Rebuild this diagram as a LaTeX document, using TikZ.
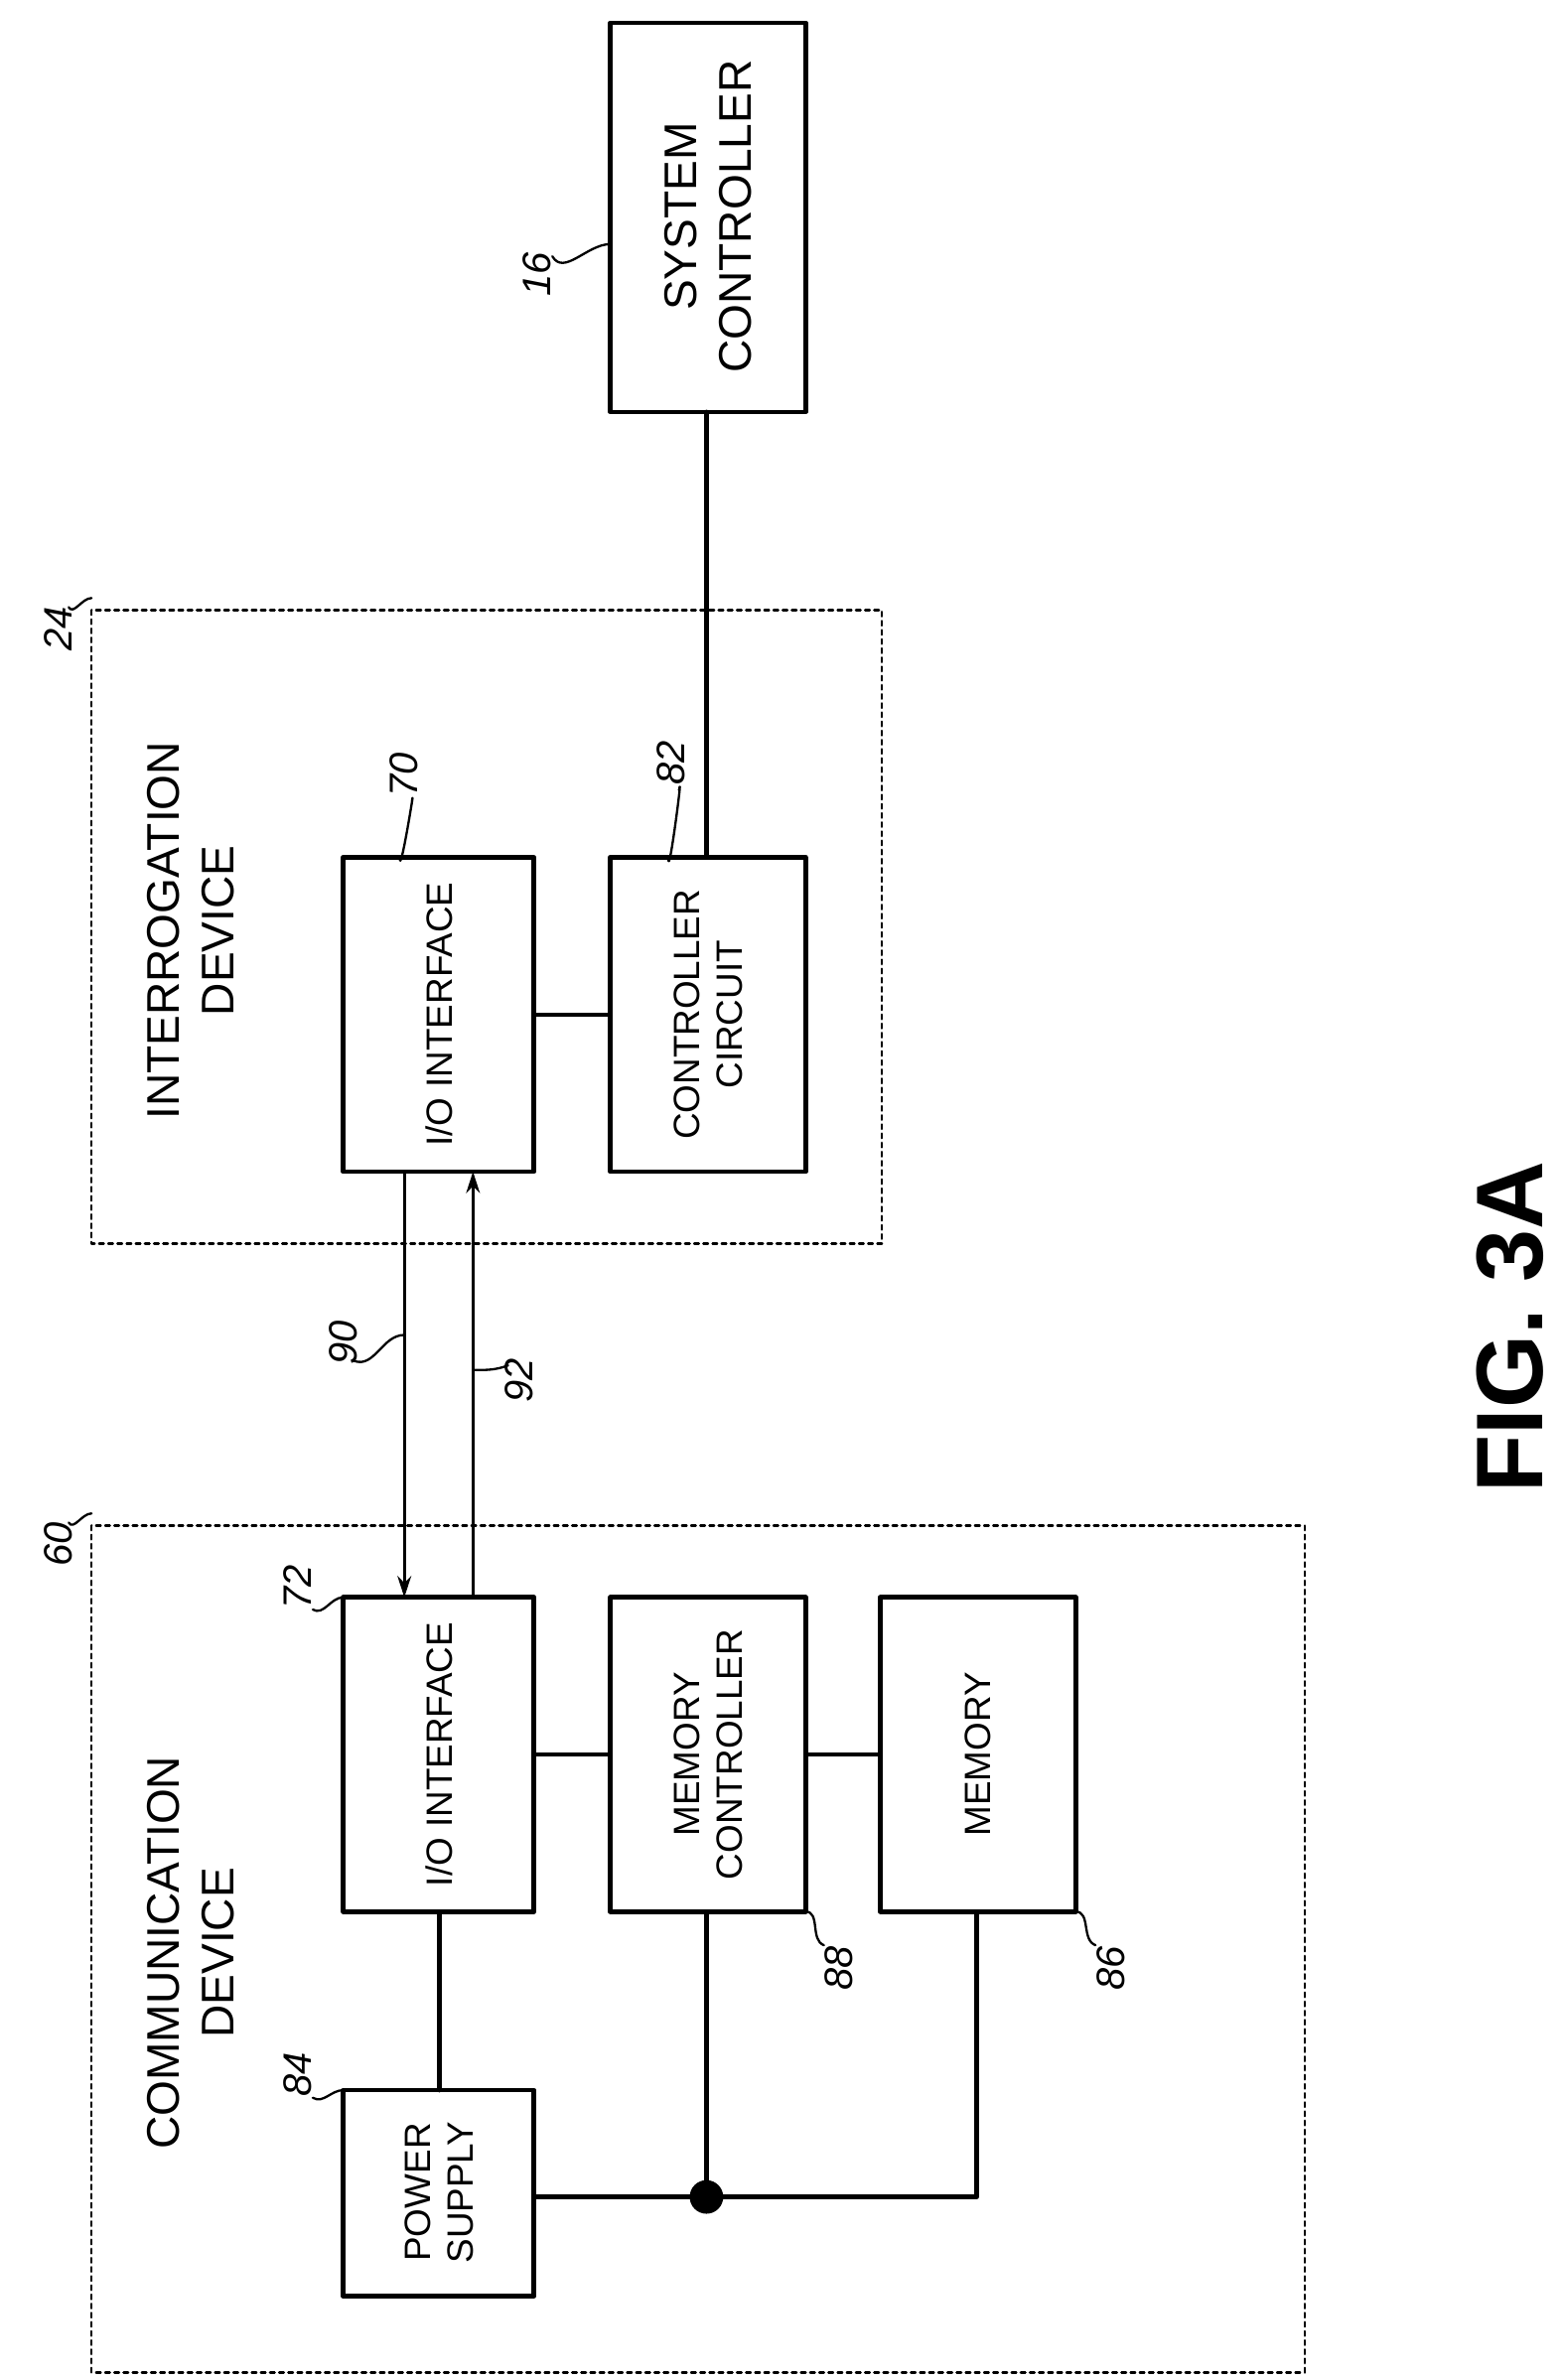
\documentclass[tikz,border=0pt]{standalone}
\usepackage{fontspec}
\setmainfont{Liberation Sans}
\usetikzlibrary{arrows.meta}
\tikzset{
  blk/.style={draw,line width=3pt,minimum width=#1},
  lbl/.style={rotate=90,align=center,font=\fontsize{24}{28}\selectfont},
  ref/.style={rotate=90,font=\fontsize{26}{28}\selectfont\itshape},
  grp/.style={draw,dashed,line width=1.6pt},
  wire/.style={line width=3pt},
}
\begin{document}
\begin{tikzpicture}[line cap=round,line join=round,x=1pt,y=-1pt,>={Stealth[length=14pt,width=9pt]}]
\useasboundingbox (0,0) rectangle (1024,1560);
% groups
\draw[grp] (60,400) rectangle (578,815);
\draw[grp] (60,1000) rectangle (855,1555);
\node[lbl,font=\fontsize{30}{36}\selectfont] (intdev) at (125,610) {INTERROGATION\\DEVICE};
\node[lbl,font=\fontsize{30}{36}\selectfont] (comdev) at (125,1280) {COMMUNICATION\\DEVICE};
% blocks
\draw[blk] (400,15) rectangle (528,270);
\node[lbl,font=\fontsize{30}{36}\selectfont] (sysctl) at (464,142) {SYSTEM\\CONTROLLER};
\draw[blk] (225,562) rectangle (350,768);
\node[lbl] (ioa) at (288,665) {I/O INTERFACE};
\draw[blk] (400,562) rectangle (528,768);
\node[lbl] (ctlc) at (464,665) {CONTROLLER\\CIRCUIT};
\draw[blk] (225,1047) rectangle (350,1253);
\node[lbl] (iob) at (288,1150) {I/O INTERFACE};
\draw[blk] (400,1047) rectangle (528,1253);
\node[lbl] (memctl) at (464,1150) {MEMORY\\CONTROLLER};
\draw[blk] (577,1047) rectangle (705,1253);
\node[lbl] (mem) at (641,1150) {MEMORY};
\draw[blk] (225,1370) rectangle (350,1505);
\node[lbl] (pwr) at (288,1437) {POWER\\SUPPLY};
% coordinates
\coordinate (sysB) at (463,270);
\coordinate (ctlT) at (463,562);
\coordinate (ioaR) at (350,665);
\coordinate (ctlL) at (400,665);
\coordinate (iobR) at (350,1150);
\coordinate (mcL) at (400,1150);
\coordinate (mcR) at (528,1150);
\coordinate (memL) at (577,1150);
\coordinate (iobB) at (288,1253);
\coordinate (pwrT) at (288,1370);
\coordinate (pwrR) at (350,1440);
\coordinate (dot) at (463,1440);
\coordinate (mcB) at (463,1253);
\coordinate (memB) at (640,1253);
\coordinate (a90s) at (265,768);
\coordinate (a90e) at (265,1047);
\coordinate (a92s) at (310,1047);
\coordinate (a92e) at (310,768);
% wires
\draw[wire] (sysB) -- (ctlT);
\draw[wire] (ioaR) -- (ctlL);
\draw[wire] (iobR) -- (mcL);
\draw[wire] (mcR) -- (memL);
\draw[wire] (iobB) -- (pwrT);
\draw[wire] (pwrR) -- (memB |- pwrR) -- (memB);
\draw[wire] (mcB) -- (dot);
\fill (dot) circle (11);
\draw[line width=2pt,->] (a90s) -- (a90e);
\draw[line width=2pt,->] (a92s) -- (a92e);
% reference numerals
\node[ref] (r16) at (352,180) {16};
\draw[line width=1.5pt] (362,168) to[out=-60,in=180] (400,160);
\node[ref] (r24) at (38,412) {24};
\draw[line width=1.5pt] (45,398) to[out=-60,in=180] (60,392);
\node[ref] (r70) at (265,508) {70};
\draw[line width=1.5pt] (270,525) to[out=80,in=-90] (262,562);
\node[ref] (r82) at (440,500) {82};
\draw[line width=1.5pt] (445,518) to[out=80,in=-90] (438,562);
\node[ref] (r90) at (225,880) {90};
\draw[line width=1.5pt] (232,892) to[out=-20,in=180] (265,875);
\node[ref] (r92) at (340,905) {92};
\draw[line width=1.5pt] (333,895) to[out=200,in=0] (310,898);
\node[ref] (r60) at (38,1012) {60};
\draw[line width=1.5pt] (45,998) to[out=-60,in=180] (60,992);
\node[ref] (r72) at (195,1040) {72};
\draw[line width=1.5pt] (205,1055) to[out=-30,in=180] (225,1047);
\node[ref] (r88) at (550,1290) {88};
\draw[line width=1.5pt] (540,1275) to[out=160,in=0] (528,1253);
\node[ref] (r86) at (728,1290) {86};
\draw[line width=1.5pt] (718,1275) to[out=160,in=0] (705,1253);
\node[ref] (r84) at (195,1360) {84};
\draw[line width=1.5pt] (205,1375) to[out=-30,in=180] (225,1370);
% caption
\node[rotate=90,font=\fontsize{62}{70}\selectfont\bfseries] (fig) at (990,870) {FIG. 3A};
\end{tikzpicture}
\end{document}
